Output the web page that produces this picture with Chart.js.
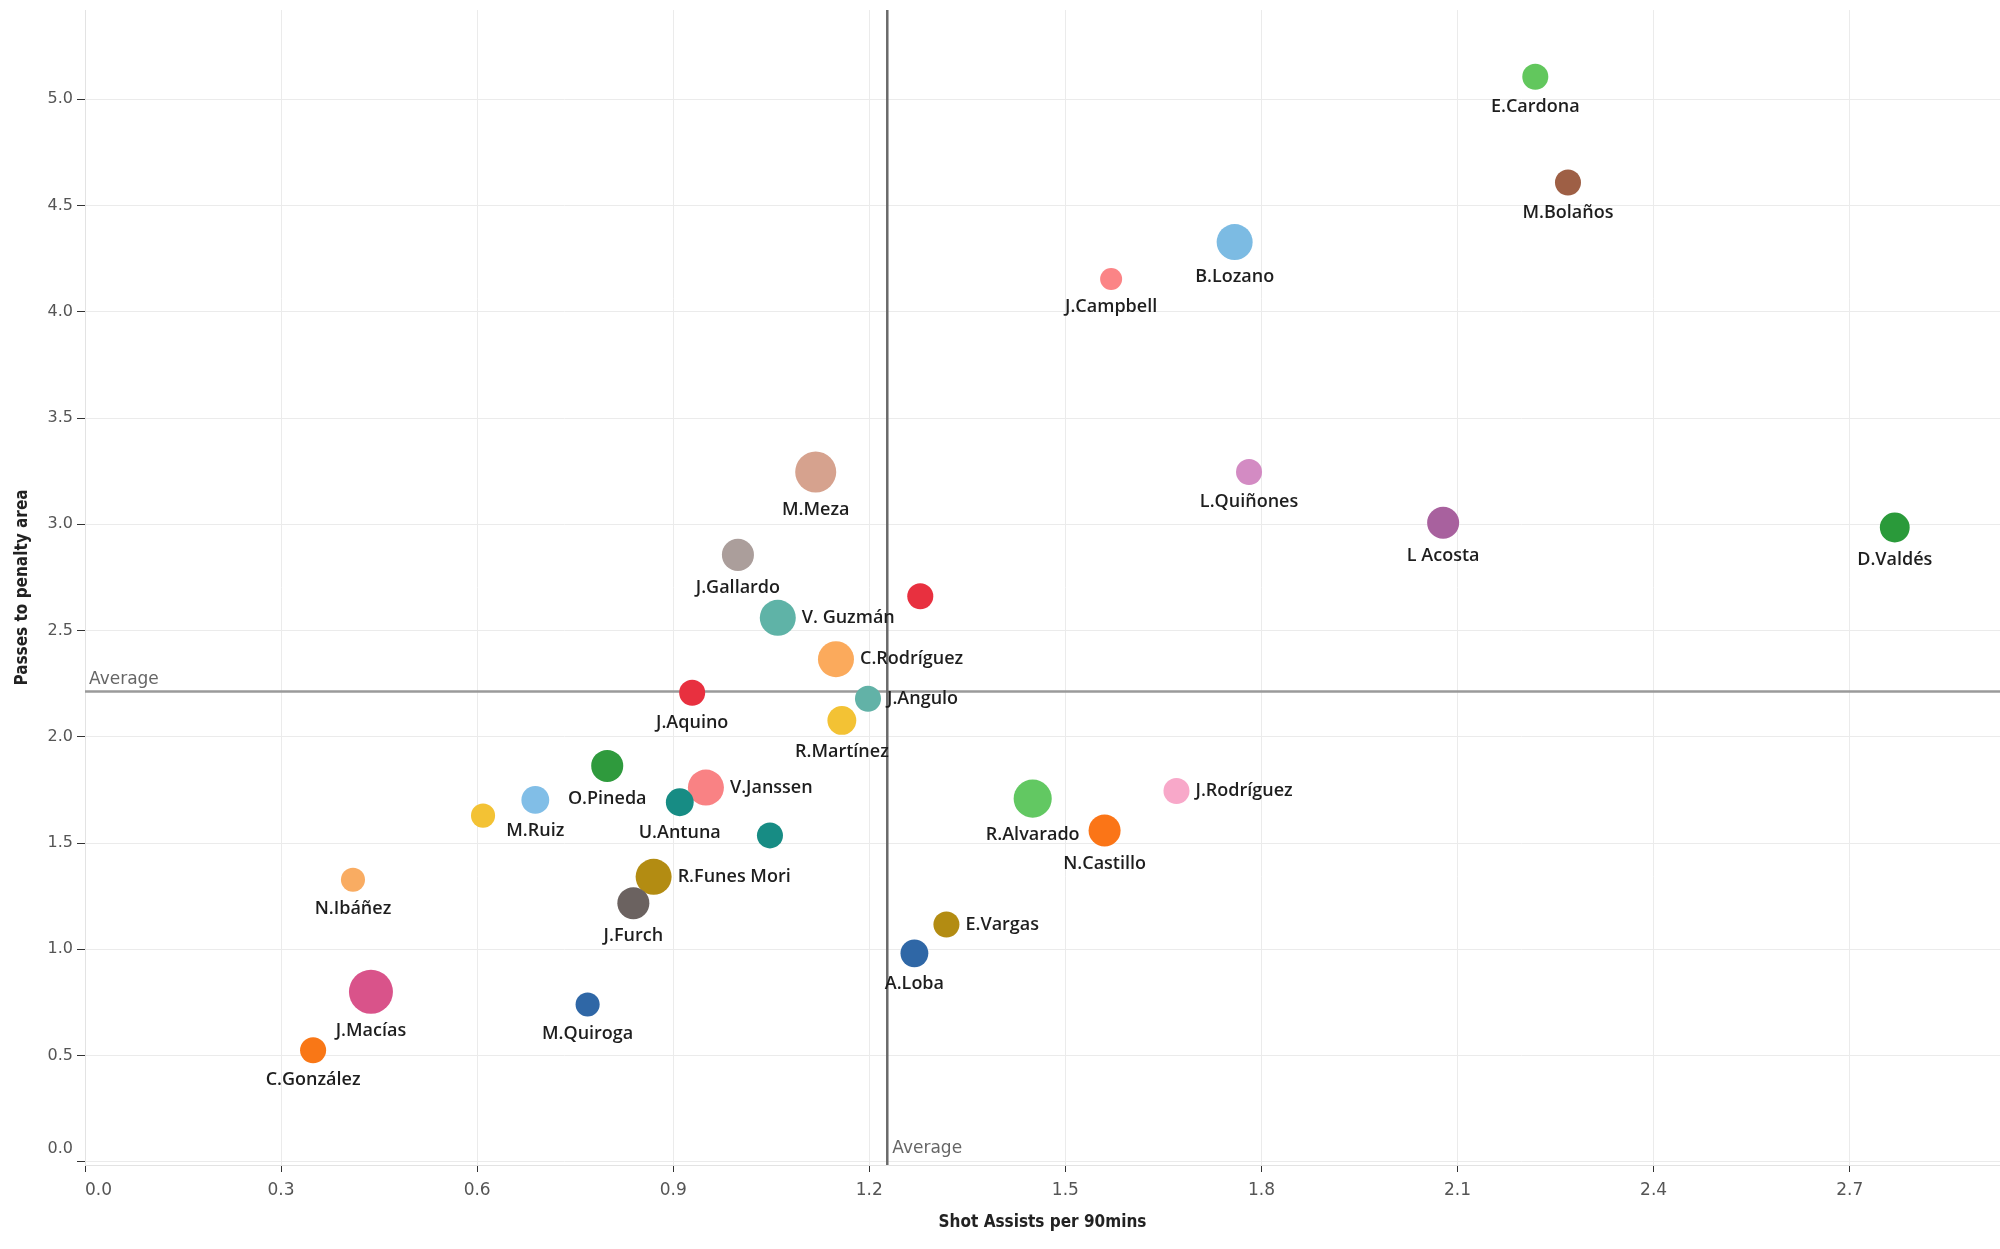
<!DOCTYPE html>
<html><head><meta charset="utf-8">
<script src="https://cdn.jsdelivr.net/npm/chart.js@4/dist/chart.umd.min.js"></script>
<style>html,body{margin:0;padding:0;background:#fff;}canvas{display:block;}</style>
</head><body>
<canvas id="c" width="2000" height="1249"></canvas>
<script>
// ---------- DATA ----------
const players = ["E.Cardona","M.Bolaños","B.Lozano","J.Campbell","M.Meza","L.Quiñones","L Acosta","D.Valdés",
  "J.Gallardo","","V. Guzmán","C.Rodríguez","J.Aquino","J.Angulo","R.Martínez","O.Pineda","V.Janssen",
  "M.Ruiz","","U.Antuna","","R.Alvarado","J.Rodríguez","N.Castillo","N.Ibáñez","R.Funes Mori","J.Furch",
  "E.Vargas","A.Loba","J.Macías","M.Quiroga","C.González"];
const shotAssists = [2.219,2.269,1.759,1.570,1.118,1.781,2.078,2.769,
  0.999,1.278,1.060,1.149,0.929,1.198,1.158,0.799,0.950,
  0.689,0.609,0.910,1.048,1.450,1.670,1.560,0.410,0.870,0.839,
  1.318,1.269,0.4375,0.769,0.349];
const passesPenaltyArea = [5.106,4.608,4.328,4.154,3.246,3.246,3.007,2.985,
  2.856,2.661,2.560,2.365,2.207,2.179,2.077,1.863,1.761,
  1.703,1.629,1.692,1.536,1.709,1.745,1.559,1.327,1.341,1.217,
  1.117,0.981,0.800,0.740,0.525];
const bubbleMetric = [35,35,67,25,87,35,53,46,
  53,35,67,67,35,35,43,53,67,
  40,30,40,35,75,35,53,30,67,53,
  35,40,100,30,35];
const xTickValues = [0.0,0.3,0.6,0.9,1.2,1.5,1.8,2.1,2.4,2.7];
const yTickValues = [0.0,0.5,1.0,1.5,2.0,2.5,3.0,3.5,4.0,4.5,5.0];
const xMax = 2.93, yMin = -0.015, yMax = 5.42;
const xTitle = "Shot Assists per 90mins";
const yTitle = "Passes to penalty area";
const avgLabel = "Average";

// ---------- STYLE ----------
const colors = ["#62c75d","#9e5f45","#7cbbe3","#fb8486","#d6a28e","#d38bc3","#a8619e","#2a9a3a",
  "#ab9e9b","#e8303f","#5fb3a7","#fbaa5c","#e8303f","#62b2a7","#f3c234","#2f9a3d","#f98284",
  "#81bee7","#f3c234","#178c84","#178c84","#62c862","#f8a8c9","#fb7517","#f9ac62","#b38c12","#6b6260",
  "#b38c12","#2f67a6","#d9538a","#2f67a6","#f97716"];
const labelSide = ["b","b","b","b","b","b","b","b",
  "b","","r","r","b","r","b","b","r",
  "b","","b","","b","r","b","b","r","b",
  "r","b","b","b","b"];

const mean = a => a.reduce((s,v)=>s+v,0)/a.length;
const avgX = mean(shotAssists);
const avgY = mean(passesPenaltyArea);

const points = players.map((p,i)=>({x:shotAssists[i], y:passesPenaltyArea[i], r:2.2*Math.sqrt(bubbleMetric[i])}));

// keep the plot area flush with the canvas edges as in the reference
Chart.BubbleController.prototype.getMaxOverflow = function(){ return 0; };

const avgPlugin = {
  id:'avg',
  beforeDatasetsDraw(chart){
    const {ctx, chartArea:a, scales:{x,y}} = chart;
    const py = y.getPixelForValue(avgY), px = x.getPixelForValue(avgX);
    ctx.save();
    ctx.lineWidth = 2.5;
    ctx.strokeStyle = '#9a9a9a';
    ctx.beginPath(); ctx.moveTo(a.left, py); ctx.lineTo(a.right, py); ctx.stroke();
    ctx.strokeStyle = '#6a6a6a';
    ctx.beginPath(); ctx.moveTo(px, a.top); ctx.lineTo(px, a.bottom); ctx.stroke();
    ctx.fillStyle = '#666';
    ctx.font = '17px "DejaVu Sans"';
    ctx.textAlign = 'left'; ctx.textBaseline = 'alphabetic';
    ctx.fillText(avgLabel, a.left + 4, py - 7);
    ctx.fillText(avgLabel, px + 5, a.bottom - 12);
    // first y tick label sits above its tick (inner alignment)
    ctx.fillStyle = '#555';
    ctx.font = '16px "DejaVu Sans"';
    ctx.textAlign = 'right'; ctx.textBaseline = 'middle';
    ctx.fillText(yTickValues[0].toFixed(1), a.left - 12, y.getPixelForValue(yTickValues[0]) - 13);
    ctx.restore();
  }
};

const labelPlugin = {
  id:'lbl',
  afterDatasetsDraw(chart){
    const {ctx} = chart;
    const meta = chart.getDatasetMeta(0);
    ctx.save();
    ctx.fillStyle = '#1e1e1e';
    ctx.font = '600 18px "Open Sans"';
    meta.data.forEach((el,i)=>{
      const side = labelSide[i];
      if (!side || !players[i]) return;
      const r = el.options.radius;
      if (side === 'b') {
        ctx.textAlign = 'center'; ctx.textBaseline = 'middle';
        ctx.fillText(players[i], el.x, el.y + r + 17);
      } else {
        ctx.textAlign = 'left'; ctx.textBaseline = 'middle';
        ctx.fillText(players[i], el.x + r + 6, el.y);
      }
    });
    ctx.restore();
  }
};

const near = (a,b) => Math.abs(a-b) < 1e-9;
const isBound = (ctx, lim) => ctx.tick && near(ctx.tick.value, lim);

Chart.defaults.font.family = '"DejaVu Sans"';
new Chart(document.getElementById('c'), {
  type:'bubble',
  data:{ datasets:[{ data: points, backgroundColor: colors, borderWidth:0, hoverBorderWidth:0 }] },
  options:{
    responsive:false, animation:false, events:[],
    layout:{ padding:{ left:0, right:0, top:10, bottom:0 } },
    plugins:{ legend:{display:false}, tooltip:{enabled:false} },
    scales:{
      x:{
        type:'linear', min:0, max:xMax,
        afterBuildTicks(s){ s.ticks = xTickValues.map(v=>({value:v})).concat([{value:xMax}]); },
        afterFit(s){ s.height = 84; s.paddingLeft = 0; s.paddingRight = 0; },
        grid:{ color:c=>isBound(c,xMax)?'rgba(0,0,0,0)':'#ebebeb', lineWidth:1, drawTicks:true,
          tickColor:c=>isBound(c,xMax)?'rgba(0,0,0,0)':'#333', tickLength:7 },
        border:{ color:'#e3e3e3' },
        ticks:{ color:'#555', font:{size:17}, padding:8, maxRotation:0, autoSkip:false, align:'inner',
          callback:v=>near(v,xMax) ? '' : Number(v).toFixed(1) },
        title:{ display:true, text:xTitle, color:'#222',
          font:{ family:'"DejaVu Sans Condensed"', weight:'bold', size:17 }, padding:{top:0,bottom:16} }
      },
      y:{
        type:'linear', min:yMin, max:yMax,
        afterBuildTicks(s){ s.ticks = yTickValues.map(v=>({value:v})).concat([{value:yMax}]); },
        afterFit(s){ s.width = 85; s.paddingTop = 0; s.paddingBottom = 0; },
        grid:{ color:c=>isBound(c,yMax)?'rgba(0,0,0,0)':'#ebebeb', lineWidth:1, drawTicks:true,
          tickColor:c=>isBound(c,yMax)?'rgba(0,0,0,0)':'#333', tickLength:8 },
        border:{ color:'#e3e3e3' },
        ticks:{ color:'#555', font:{size:16}, padding:4, autoSkip:false,
          callback:v=>(near(v,yMax) || near(v,yTickValues[0])) ? '' : Number(v).toFixed(1) },
        title:{ display:true, text:yTitle, color:'#222',
          font:{ family:'"DejaVu Sans Condensed"', weight:'bold', size:17 }, padding:{top:12,bottom:0} }
      }
    }
  },
  plugins:[avgPlugin, labelPlugin]
});
</script>
</body></html>
